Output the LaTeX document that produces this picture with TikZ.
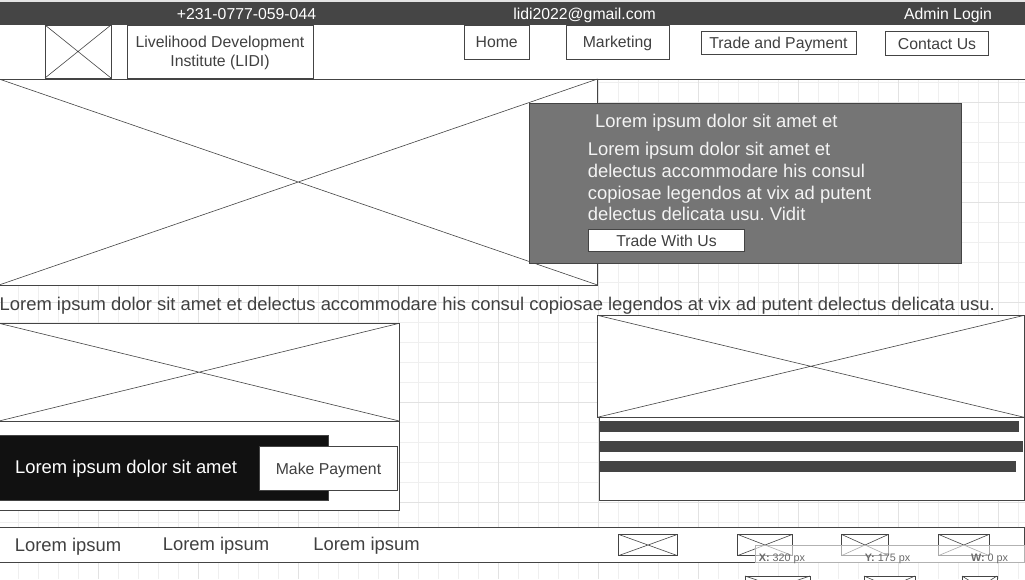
\documentclass[tikz,border=0pt]{standalone}
\usepackage{fontspec}
\setmainfont{Liberation Sans}
\frenchspacing
\usetikzlibrary{fit}
\definecolor{lineC}{HTML}{444444}
\definecolor{barC}{HTML}{454545}
\definecolor{boxC}{HTML}{757575}
\definecolor{txtC}{HTML}{404040}
\definecolor{boxTxt}{HTML}{F4F4F4}
\definecolor{gridMinor}{HTML}{EFEFEF}
\definecolor{gridMajor}{HTML}{E2E2E2}
\definecolor{topStrip}{HTML}{E4E4E4}
\definecolor{blackBand}{HTML}{111111}
\definecolor{overTxt}{HTML}{6A6A6A}
\newcommand\imgph[5]{%
  \node[box, fit={(#2,#3) (#4,#5)}] (#1) {};
  \draw[xline] (#1.north west) -- (#1.south east) (#1.north east) -- (#1.south west);}
\begin{document}
\begin{tikzpicture}[x=1pt,y=-1pt,
  box/.style={draw=lineC, line width=0.9pt, fill=white, inner sep=0pt, outer sep=0pt},
  xline/.style={draw=lineC, line width=0.6pt},
  capc/.style={text height=0.716em, text depth=0pt, inner sep=0pt},
  smallf/.style={font=\fontsize{15.8}{19}\selectfont, yshift=-2.3pt},
  bigf/.style={font=\fontsize{18.4}{22}\selectfont, yshift=-3pt},
  tinyf/.style={font=\fontsize{10.8}{12}\selectfont, yshift=-1.5pt},
  minorline/.style={draw=gridMinor, line width=0.8pt},
  majorline/.style={draw=gridMajor, line width=0.8pt}
]
\clip (0,0) rectangle (1025,579);
\useasboundingbox (0,0) rectangle (1025,579);
\fill[white] (0,0) rectangle (1025,579);
% grid
\foreach \gx in {18.5,38.5,...,1020} \draw[minorline] (\gx,0) -- (\gx,579);
\foreach \gy in {2.5,22.5,...,579} \draw[minorline] (0,\gy) -- (1025,\gy);
\foreach \gx in {98.5,198.5,...,1020} \draw[majorline] (\gx,0) -- (\gx,579);
\foreach \gy in {2.5,102.5,...,579} \draw[majorline] (0,\gy) -- (1025,\gy);

% top bar
\fill[topStrip] (0,0) rectangle (1025,2);
\node[fill=barC, inner sep=0pt, outer sep=0pt, fit={(0,2) (1025,25)}] (topbar) {};
\node[capc, smallf, text=white] (phone) at (246.5,14) {+231-0777-059-044};
\node[capc, smallf, text=white] (email) at (584.5,14) {lidi2022@gmail.com};
\node[capc, smallf, text=white] (admin) at (948,14) {Admin Login};

% header
\node[fill=white, inner sep=0pt, outer sep=0pt, fit={(0,25) (1025,79)}] (header) {};
\draw[draw=lineC, line width=0.9pt] (header.south west) -- (header.south east);
\imgph{logo}{45}{25}{111}{78}
\node[box, fit={(127.5,25) (313,78)}] (lidi) {};
\node[smallf, text=txtC, align=center, inner sep=0pt] (lidiText) at (220,50.8) {Livelihood Development\\Institute (LIDI)};
\node[box, fit={(464.3,25) (529.3,59.5)}] (home) {};
\node[capc, smallf, text=txtC] (homeText) at (496.7,42) {Home};
\node[box, fit={(566,25) (669,59.5)}] (marketing) {};
\node[capc, smallf, text=txtC] (marketingText) at (617.5,41.5) {Marketing};
\node[box, fit={(701,31) (856,54.3)}] (trade) {};
\node[capc, smallf, text=txtC] (tradeText) at (778.5,43) {Trade and Payment};
\node[box, fit={(885.7,31.5) (988,55.5)}] (contact) {};
\node[capc, smallf, text=txtC] (contactText) at (937,43.5) {Contact Us};

% hero
\imgph{hero}{-1}{79}{597.5}{285}
\node[draw=lineC, line width=0.9pt, fill=boxC, inner sep=0pt, outer sep=0pt, fit={(529.3,103.3) (961,263.3)}] (greybox) {};
\node[capc, bigf, text=boxTxt, anchor=west] (heroTitle) at (595,120.5) {Lorem ipsum dolor sit amet et};
\node[capc, bigf, text=boxTxt, anchor=west] (para1) at (587.7,149) {Lorem ipsum dolor sit amet et};
\node[capc, bigf, text=boxTxt, anchor=west] (para2) at (587.7,171) {delectus accommodare his consul};
\node[capc, bigf, text=boxTxt, anchor=west] (para3) at (587.7,192.5) {copiosae legendos at vix ad putent};
\node[capc, bigf, text=boxTxt, anchor=west] (para4) at (587.7,214) {delectus delicata usu. Vidit};
\node[box, fit={(588,229.5) (744.7,251.5)}] (tradeBtn) {};
\node[capc, smallf, text=txtC] (tradeBtnText) at (666.5,241) {Trade With Us};

% text line
\node[capc, bigf, text=txtC, anchor=west] (line) at (-0.5,304) {Lorem ipsum dolor sit amet et delectus accommodare his consul copiosae legendos at vix ad putent delectus delicata usu.};

% left card
\imgph{leftImg}{-1}{323.3}{399.3}{421}
\node[box, fit={(-1,421) (399.3,510.7)}] (leftLower) {};
\node[fill=blackBand, draw=lineC, line width=0.6pt, inner sep=0pt, outer sep=0pt, fit={(-1,435.3) (328.5,500.7)}] (band) {};
\node[capc, bigf, text=white] (bandText) at (126,466.7) {Lorem ipsum dolor sit amet};
\node[box, fit={(259.3,446.3) (397.5,490.7)}] (payBtn) {};
\node[capc, smallf, text=txtC] (payText) at (328.5,469) {Make Payment};

% right card
\imgph{rightImg}{597.3}{315.3}{1024.3}{417.3}
\node[box, fit={(599.3,417.3) (1024.3,500.3)}] (rightLower) {};
\fill[lineC] (599.3,421) rectangle (1019,432);
\fill[lineC] (599.3,441) rectangle (1023,452);
\fill[lineC] (599.3,461) rectangle (1016,472);

% footer
\node[box, fit={(-1,527.3) (1024.3,562.7)}] (footer) {};
\node[capc, bigf, text=txtC] (foot1) at (68,545) {Lorem ipsum};
\node[capc, bigf, text=txtC] (foot2) at (216,544) {Lorem ipsum};
\node[capc, bigf, text=txtC] (foot3) at (366.5,544) {Lorem ipsum};
\imgph{ficon1}{618.3}{534.3}{677.7}{555.7}
\imgph{ficon2}{737.3}{534.3}{792.7}{555.7}
\imgph{ficon3}{841.3}{534.3}{888.7}{555.7}
\imgph{ficon4}{938.3}{534.3}{989.3}{555.7}
% icons below footer
\imgph{bicon1}{745}{576}{810}{598}
\imgph{bicon2}{864}{576}{915}{598}
\imgph{bicon3}{962}{576}{997}{598}

% coordinates overlay
\node[fill=white, fill opacity=0.55, draw=gray!60, line width=0.8pt, inner sep=0pt, outer sep=0pt, fit={(755,545) (1024.3,562.7)}] (overlay) {};
\node[capc, tinyf, text=overTxt] (ovX) at (782,556) {\textbf{X:} 320 px};
\node[capc, tinyf, text=overTxt] (ovY) at (887.5,556) {\textbf{Y:} 175 px};
\node[capc, tinyf, text=overTxt] (ovW) at (989.5,556) {\textbf{W:} 0 px};
\end{tikzpicture}
\end{document}
